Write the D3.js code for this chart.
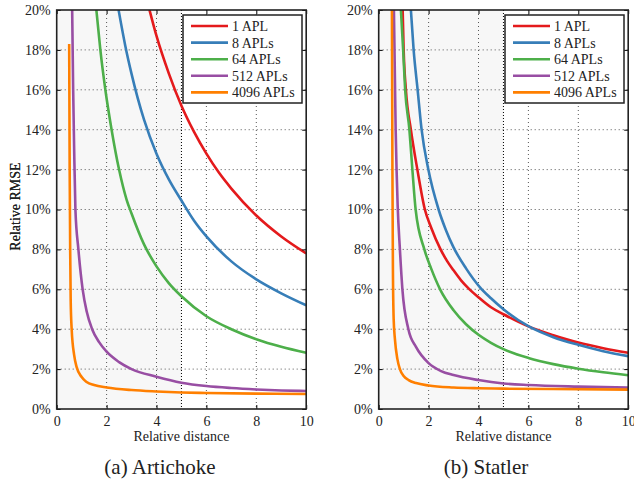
<!DOCTYPE html>
<html>
<head>
<meta charset="utf-8">
<script src="https://cdn.jsdelivr.net/npm/d3@7"></script>
<style>
  body { margin: 0; background: #fff; }
  svg { display: block; }
  text { font-family: "Liberation Serif", "Times New Roman", serif; fill: #222; }
</style>
</head>
<body>
<svg id="chart" width="634" height="484"></svg>
<script>
// tick values
const xTicks = [0, 2, 4, 6, 8, 10];
const yTicks = [0, 2, 4, 6, 8, 10, 12, 14, 16, 18, 20];
const seriesNames = ["1 APL", "8 APLs", "64 APLs", "512 APLs", "4096 APLs"];

// (a) Artichoke, [relative distance, relative RMSE %]
const artichoke1 = [[3.72,20],[4,18.7],[4.5,16.8],[5,15.2],[5.5,13.9],[6,12.8],[6.5,11.85],[7,11.05],[8,9.7],[9,8.65],[10,7.8]];
const artichoke8 = [[2.48,20],[2.75,18.2],[3,16.8],[3.5,14.5],[4,12.8],[4.5,11.5],[5,10.45],[5.5,9.45],[6,8.65],[7,7.4],[8,6.5],[9,5.8],[10,5.2]];
const artichoke64 = [[1.59,20],[1.75,18],[1.95,16],[2.2,14],[2.5,12],[2.8,10.5],[3,9.8],[3.5,8.25],[4,7.15],[4.5,6.3],[5,5.65],[6,4.65],[7,4.0],[8,3.5],[9,3.12],[10,2.82]];
const artichoke512 = [[0.62,20],[0.66,16],[0.70,13],[0.75,10],[0.87,8],[1.04,6],[1.2,4.9],[1.42,4],[1.7,3.35],[2,2.87],[2.5,2.35],[3,2.0],[4,1.62],[5,1.32],[6,1.15],[7,1.05],[8,0.98],[9,0.93],[10,0.9]];
const artichoke4096 = [[0.5,18.3],[0.52,12],[0.54,8],[0.56,5.5],[0.6,4],[0.7,2.7],[0.8,2.1],[1.0,1.6],[1.2,1.35],[1.5,1.2],[2,1.08],[3,0.95],[4,0.88],[5,0.83],[6,0.8],[8,0.77],[10,0.75]];

// (b) Statler
const statler1 = [[0.96,20],[1.0,18],[1.09,16],[1.29,14],[1.55,12],[1.85,10],[2.1,9.1],[2.46,8.05],[2.75,7.4],[3,6.95],[3.3,6.45],[3.6,6.05],[4,5.6],[4.5,5.1],[5,4.75],[6,4.14],[7,3.7],[8,3.33],[9,3.05],[10,2.82]];
const statler8 = [[1.29,20],[1.4,18],[1.56,16],[1.72,14],[1.99,12],[2.4,10],[2.7,8.95],[3,8.1],[3.5,7.05],[4.06,6.1],[4.5,5.55],[5,5.0],[6,4.15],[7,3.6],[8,3.22],[9,2.9],[10,2.65]];
const statler64 = [[0.89,20],[0.98,18],[1.06,16],[1.23,14],[1.35,12],[1.48,10],[1.83,8],[2.1,7.05],[2.46,6],[3,4.95],[3.5,4.25],[4,3.72],[4.5,3.32],[5,3.0],[6,2.56],[7,2.25],[8,2.02],[9,1.84],[10,1.69]];
const statler512 = [[0.61,20],[0.68,14],[0.76,10.2],[0.85,8],[0.95,6],[1.19,4],[1.5,3.1],[2,2.3],[2.5,1.9],[3,1.7],[4,1.45],[5,1.28],[6,1.2],[8,1.12],[10,1.07]];
const statler4096 = [[0.53,20],[0.55,12],[0.57,7],[0.6,4.5],[0.65,3.5],[0.75,2.5],[0.85,2.0],[1.0,1.65],[1.2,1.45],[1.5,1.3],[2,1.18],[3,1.08],[4,1.04],[5,1.02],[7,1.0],[10,0.97]];

const colors = ["#e41a1c", "#377eb8", "#4daf4a", "#984ea3", "#ff7f00"];

const svg = d3.select("#chart");
const plotTop = 10, height = 399, width = 249.5;

const panels = [
  { id: "a", left: 56.7, series: [artichoke1, artichoke8, artichoke64, artichoke512, artichoke4096], caption: "(a) Artichoke", capX: 160 },
  { id: "b", left: 378.7, series: [statler1, statler8, statler64, statler512, statler4096], caption: "(b) Statler", capX: 486 }
];

panels.forEach(p => {
  const x = d3.scaleLinear().domain([0, 10]).range([0, width]);
  const y = d3.scaleLinear().domain([0, 20]).range([height, 0]);
  const g = svg.append("g").attr("transform", `translate(${p.left},${plotTop})`);

  g.append("clipPath").attr("id", "clip-" + p.id)
    .append("rect").attr("width", width).attr("height", height);

  // shaded region up to distance 5
  g.append("rect")
    .attr("x", x(0)).attr("y", 0)
    .attr("width", x(5) - x(0)).attr("height", height)
    .attr("fill", "#f7f7f7");

  // dotted grid
  g.selectAll(".gx").data(xTicks.filter(d => d > 0 && d < 10)).join("line")
    .attr("x1", d => x(d)).attr("x2", d => x(d))
    .attr("y1", 0).attr("y2", height)
    .attr("stroke", "#444").attr("stroke-width", 0.9).attr("stroke-dasharray", "1,3");
  g.selectAll(".gy").data(yTicks.filter(d => d > 0 && d < 20)).join("line")
    .attr("x1", 0).attr("x2", width)
    .attr("y1", d => y(d)).attr("y2", d => y(d))
    .attr("stroke", "#444").attr("stroke-width", 0.9).attr("stroke-dasharray", "1,3");

  // boundary at distance 5
  g.append("line")
    .attr("x1", x(5)).attr("x2", x(5)).attr("y1", 0).attr("y2", height)
    .attr("stroke", "#000").attr("stroke-width", 1).attr("stroke-dasharray", "1,2");

  // curves
  const line = d3.line().x(d => x(d[0])).y(d => y(d[1])).curve(d3.curveMonotoneX);
  g.append("g").attr("clip-path", `url(#clip-${p.id})`)
    .selectAll("path").data(p.series).join("path")
    .attr("d", line)
    .attr("fill", "none")
    .attr("stroke", (d, i) => colors[i])
    .attr("stroke-width", 2.6);

  // axes with inner ticks
  g.append("g").attr("transform", `translate(0,${height})`)
    .call(d3.axisBottom(x).tickValues(xTicks).tickSize(-4).tickPadding(7))
    .call(a => a.select(".domain").remove())
    .call(a => a.selectAll("text").attr("font-size", 14).attr("fill", "#222"));
  g.append("g")
    .call(d3.axisLeft(y).tickValues(yTicks).tickSize(-4).tickPadding(6).tickFormat(d => d + "%"))
    .call(a => a.select(".domain").remove())
    .call(a => a.selectAll("text").attr("font-size", 14).attr("fill", "#222"));
  g.append("g").attr("transform", `translate(${width},0)`)
    .call(d3.axisRight(y).tickValues(yTicks).tickSize(-4).tickFormat(""))
    .call(a => a.select(".domain").remove());
  g.append("g")
    .call(d3.axisTop(x).tickValues(xTicks).tickSize(-4).tickFormat(""))
    .call(a => a.select(".domain").remove());

  // frame
  g.append("rect").attr("width", width).attr("height", height)
    .attr("fill", "none").attr("stroke", "#222").attr("stroke-width", 1.6);

  // legend
  const lg = g.append("g").attr("transform", "translate(126.3,5)");
  lg.append("rect").attr("width", 119).attr("height", 88)
    .attr("fill", "#fff").attr("stroke", "#222").attr("stroke-width", 1.5);
  const rows = lg.selectAll(".row").data(seriesNames).join("g")
    .attr("transform", (d, i) => `translate(0,${11 + i * 16.6})`);
  rows.append("line").attr("x1", 8).attr("x2", 45)
    .attr("stroke", (d, i) => colors[i]).attr("stroke-width", 2.6);
  rows.append("text").attr("x", 49).attr("dy", "0.35em")
    .attr("font-size", 14).text(d => d);

  // labels
  g.append("text").attr("x", width / 2).attr("y", 431)
    .attr("text-anchor", "middle").attr("font-size", 14).text("Relative distance");
  g.append("text")
    .attr("transform", `translate(${20 - p.left},${height / 2 - 3}) rotate(-90)`)
    .attr("text-anchor", "middle").attr("font-size", 14).text("Relative RMSE");

  svg.append("text").attr("x", p.capX).attr("y", 474)
    .attr("text-anchor", "middle").attr("font-size", 21).text(p.caption);
});
</script>
</body>
</html>
